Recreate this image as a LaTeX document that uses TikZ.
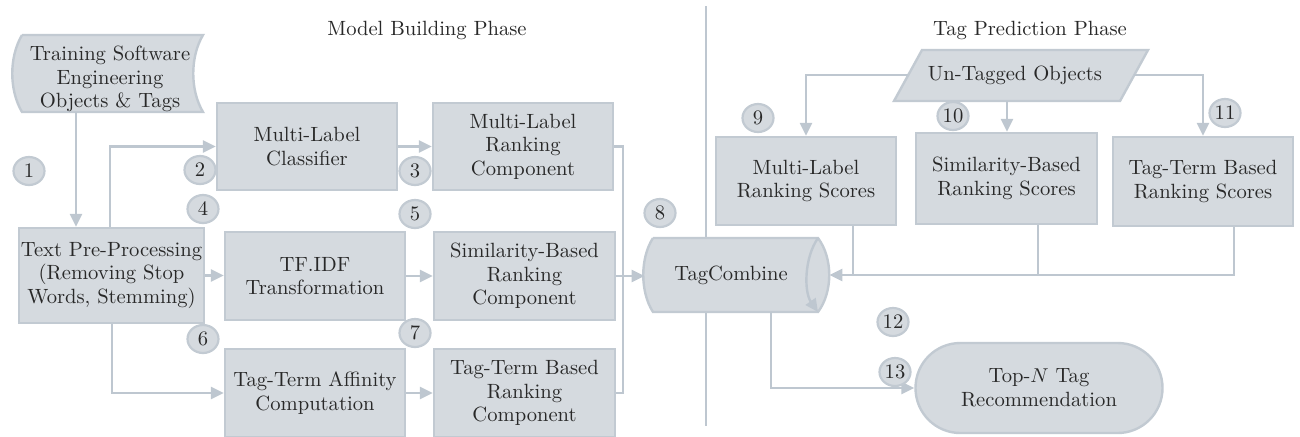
\documentclass[tikz,border=0pt]{standalone}
\usepackage{tikz}
\usetikzlibrary{arrows.meta,shapes.geometric,calc}
\definecolor{fl}{RGB}{213,218,223}
\definecolor{bd}{RGB}{194,202,210}
\definecolor{ln}{RGB}{190,199,208}
\definecolor{tx}{RGB}{40,40,40}
\tikzset{
  box/.style={draw=bd,fill=fl,line width=1.2pt,text=tx,align=center,inner sep=1pt,minimum width=90pt,minimum height=44pt},
  shp/.style={draw=bd,fill=fl,line width=1.2pt},
  num/.style={ellipse,draw=bd,fill=fl,line width=1.1pt,text=tx,inner sep=0pt,minimum width=15.5pt,minimum height=14pt},
  lbl/.style={text=tx,align=center,inner sep=0pt},
  conn/.style={draw=ln,line width=1.4pt},
  arr/.style={conn,-{Triangle[length=6.5pt,width=6pt]}},
}
\begin{document}
\begin{tikzpicture}[x=0.5pt,y=-0.5pt,font=\fontsize{10.3}{11.8}\selectfont]
\useasboundingbox (0,0) rectangle (1300,436);
% divider
\draw[conn] (706,6) -- (706,426);
% titles
\node[lbl] (t1) at (427,30) {Model Building Phase};
\node[lbl] (t2) at (1030,30) {Tag Prediction Phase};
% training shape
\draw[shp] (22,35) -- (203,35) .. controls (190,57) and (190,90) .. (203,112) -- (22,112) .. controls (9,90) and (9,57) .. (22,35);
\node[lbl,minimum height=38.5pt,minimum width=91pt] (train) at (110,73.5) {};
\node[lbl] (traintxt) at (110,79) {Training Software\\Engineering\\Objects \& Tags};
% boxes left
\node[box,minimum width=90.5pt,minimum height=47.5pt] (tpp) at (111.5,275.5) {Text Pre-Processing\\(Removing Stop\\Words, Stemming)};
\node[box,minimum height=43.5pt] (mlc) at (307,146.5) {Multi-Label\\Classifier};
\node[box,minimum height=43.5pt] (mlrc) at (523,146.5) {Multi-Label\\Ranking\\Component};
\node[box] (tfidf) at (315,276) {TF.IDF\\Transformation};
\node[box,minimum width=90.5pt] (sbrc) at (524.5,276) {Similarity-Based\\Ranking\\Component};
\node[box] (ttac) at (315,393) {Tag-Term Affinity\\Computation};
\node[box,minimum width=90.5pt] (ttbrc) at (524.5,393) {Tag-Term Based\\Ranking\\Component};
% TagCombine
\draw[shp] (653,238) -- (818,238) .. controls (833,258) and (833,292) .. (818,312) -- (653,312) .. controls (640,292) and (640,258) .. (653,238);
\draw[arr,line width=1.2pt] (818,238) .. controls (804,258) and (804,292) .. (818,312);
\node[lbl,minimum width=92pt,minimum height=37pt] (tc) at (737,275) {};
\node[lbl] (tctxt) at (731,275) {TagCombine};
% untagged
\draw[shp] (922,50) -- (1148,50) -- (1120,101) -- (894,101) -- cycle;
\node[lbl] (ut) at (1015,75.5) {Un-Tagged Objects};
\coordinate (utl) at (908,75);
\coordinate (utr) at (1134,75);
\coordinate (utb) at (1007,101);
% score boxes
\node[box,minimum height=44pt] (mlrs) at (806,181) {Multi-Label\\Ranking Scores};
\node[box,minimum width=90.5pt,minimum height=45.5pt] (sbrs) at (1006.5,178.5) {Similarity-Based\\Ranking Scores};
\node[box,minimum height=44.5pt] (ttbrs) at (1203,181.5) {Tag-Term Based\\Ranking Scores};
% top-N
\node[box,rounded corners=22.4pt,minimum width=123.5pt,minimum height=45pt] (topn) at (1039,388) {Top-$N$ Tag\\Recommendation};
% connectors left
\draw[arr] ([xshift=-17pt]train.south) -- ([xshift=-17.75pt]tpp.north);
\draw[arr] ([xshift=-0.75pt]tpp.north) |- (mlc.west);
\draw[arr] (mlc.east) -- (mlrc.west);
\draw[arr] (tpp.east) -- (tpp.east -| tfidf.west);
\draw[arr] (tfidf.east) -- (sbrc.west);
\draw[arr] ([xshift=0.25pt]tpp.south) |- (ttac.west);
\draw[arr] (ttac.east) -- (ttbrc.west);
\coordinate (mj) at (623,276);
\draw[conn] (mlrc.east) -| (mj) |- (ttbrc.east);
\draw[arr] (sbrc.east) -- (sbrc.east -| tc.west);
% connectors right
\draw[arr] (utl) -| (mlrs.north);
\draw[arr] (utb) -- (utb |- sbrs.north);
\draw[arr] (utr) -| (ttbrs.north);
\coordinate (m1) at ([xshift=23.5pt]mlrs.south);
\coordinate (m2) at ([xshift=15.75pt]sbrs.south);
\coordinate (m3) at ([xshift=15.5pt]ttbrs.south);
\draw[conn] (m1) -- (m1 |- tc.east);
\draw[conn] (m2) -- (m2 |- tc.east);
\draw[arr] (m3) |- (tc.east);
\coordinate (tcb) at ([xshift=17pt]tc.south);
\draw[arr] (tcb) |- (topn.west);
% numbers
\node[num] (n1) at (29,171) {1};
\node[num] (n2) at (200,170) {2};
\node[num] (n3) at (415,171) {3};
\node[num] (n4) at (203,209) {4};
\node[num] (n5) at (415,214) {5};
\node[num] (n6) at (203,339) {6};
\node[num] (n7) at (415,333) {7};
\node[num] (n8) at (660,213) {8};
\node[num] (n9) at (758,118) {9};
\node[num] (n10) at (953,116) {10};
\node[num] (n11) at (1225,113) {11};
\node[num] (n12) at (893,322) {12};
\node[num] (n13) at (895,372) {13};
\end{tikzpicture}
\end{document}
